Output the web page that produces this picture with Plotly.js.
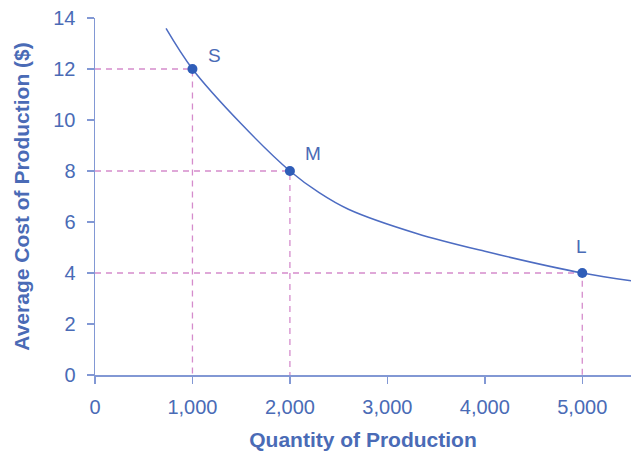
<!DOCTYPE html>
<html>
<head>
<meta charset="utf-8">
<script src="https://cdn.plot.ly/plotly-3.0.1.min.js"></script>
<style>html,body{margin:0;padding:0;background:#fff;}#chart{width:631px;height:453px;}</style>
</head>
<body>
<div id="chart"></div>
<script>
// Average cost curve
const curveX = [729, 1000, 1500, 2000, 2300, 2600, 3300, 4000, 5000, 5500];
const curveY = [13.59, 12, 9.85, 8, 7.15, 6.5, 5.55, 4.85, 4.0, 3.7];
// Labelled points
const pointNames = ["S", "M", "L"];
const pointX = [1000, 2000, 5000];
const pointY = [12, 8, 4];
// Axis ticks
const xTicks = [0, 1000, 2000, 3000, 4000, 5000];
const xTickText = ["0", "1,000", "2,000", "3,000", "4,000", "5,000"];
const yTicks = [0, 2, 4, 6, 8, 10, 12, 14];

const textBlue = "#4a6bb6";
const axisBlue = "#8298d4";
const curveBlue = "#4d6cc2";
const dotBlue = "#2f5db8";
const dashPink = "#d58ccc";

const traces = [];
// dashed guide lines
pointX.forEach((px, i) => {
  traces.push({
    x: [0, px, px], y: [pointY[i], pointY[i], 0],
    mode: "lines", line: {color: dashPink, width: 1.3, dash: "6px,5px"},
    hoverinfo: "skip", showlegend: false
  });
});
traces.push({
  x: curveX, y: curveY, mode: "lines",
  line: {color: curveBlue, width: 1.5, shape: "spline", smoothing: 1},
  showlegend: false
});
traces.push({
  x: pointX, y: pointY, mode: "markers",
  marker: {color: dotBlue, size: 10},
  showlegend: false
});

const shifts = [[22, 14], [23, 18], [-1, 27]];
const annotations = pointNames.map((n, i) => ({
  x: pointX[i], y: pointY[i], xref: "x", yref: "y", text: n, showarrow: false,
  xshift: shifts[i][0], yshift: shifts[i][1],
  font: {family: "Liberation Sans, Arial, sans-serif", size: 19, color: textBlue}
}));

const layout = {
  width: 631, height: 453,
  margin: {l: 95, r: 0, t: 18, b: 78, pad: 0},
  paper_bgcolor: "#fff", plot_bgcolor: "#fff",
  font: {family: "Liberation Sans, Arial, sans-serif", size: 20, color: textBlue},
  xaxis: {
    range: [0, 5500], tickvals: xTicks, ticktext: xTickText,
    showgrid: false, zeroline: false, showline: true, linecolor: axisBlue, linewidth: 1.5,
    ticks: "outside", ticklen: 7, tickcolor: axisBlue, tickwidth: 1.5,
    tickfont: {size: 20, color: textBlue}, ticklabelstandoff: 6,
    title: {text: "<b>Quantity of Production</b>", standoff: 16, font: {size: 21, color: textBlue}}
  },
  yaxis: {
    range: [0, 14], tickvals: yTicks,
    showgrid: false, zeroline: false, showline: true, linecolor: axisBlue, linewidth: 1.5,
    ticks: "outside", ticklen: 7, tickcolor: axisBlue, tickwidth: 1.5,
    tickfont: {size: 20, color: textBlue}, ticklabelstandoff: 7,
    title: {text: "<b>Average Cost of Production ($)</b>", standoff: 18, font: {size: 21, color: textBlue}}
  },
  annotations: annotations
};

Plotly.newPlot("chart", traces, layout, {displayModeBar: false, staticPlot: true});
</script>
</body>
</html>
